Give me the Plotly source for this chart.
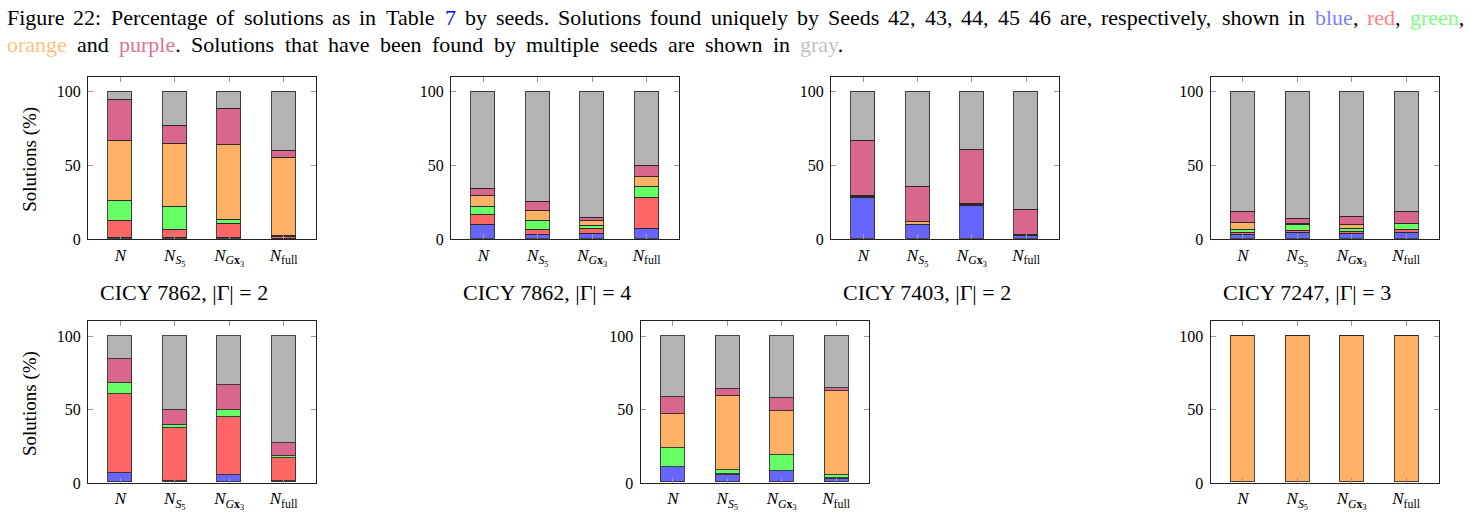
import plotly.graph_objects as go

W, H = 1467, 526

categories = ["N", "NS5", "NGx3", "Nfull"]
tick_labels = [
    "<i>N</i>",
    "<i>N</i><sub><i>S</i><sub>5</sub></sub>",
    "<i>N</i><sub><i>G</i><b>x</b><sub>3</sub></sub>",
    "<i>N</i><sub>full</sub>",
]
titles = ["CICY 7862, |Γ| = 2", "CICY 7862, |Γ| = 4", "CICY 7403, |Γ| = 2", "CICY 7247, |Γ| = 3"]

# values per chart (7 charts) x 4 categories, in %
blue = [
    [1.3, 1.3, 1.3, 0.4],
    [9.7, 3.3, 4.0, 7.1],
    [27.9, 9.7, 22.6, 2.4],
    [2.7, 4.2, 3.8, 4.2],
    [6.2, 1.3, 4.9, 1.3],
    [10.6, 5.3, 8.0, 2.7],
    [0, 0, 0, 0],
]
red = [
    [11.5, 4.9, 9.3, 1.6],
    [6.7, 3.3, 3.3, 21.2],
    [0.8, 0.4, 0.7, 0.5],
    [1.7, 1.6, 1.5, 2.2],
    [54.3, 36.0, 39.7, 15.3],
    [0, 0.6, 0, 0.3],
    [0, 0, 0, 0],
]
green = [
    [13.1, 16.1, 2.5, 0.4],
    [5.3, 6.0, 1.8, 7.3],
    [0.7, 0, 0.6, 0.4],
    [2.2, 3.7, 1.8, 4.0],
    [7.3, 1.7, 5.1, 1.4],
    [13.1, 2.7, 10.6, 2.1],
    [0, 0, 0, 0],
]
orange = [
    [40.5, 42.1, 51.1, 52.9],
    [7.7, 6.4, 3.5, 6.9],
    [0, 1.6, 0, 0],
    [4.5, 0.9, 2.9, 0.4],
    [0, 0, 0, 0],
    [23.1, 50.6, 30.0, 57.2],
    [100, 100, 100, 100],
]
purple = [
    [27.8, 12.6, 24.1, 4.9],
    [4.9, 6.7, 2.2, 7.1],
    [37.0, 23.5, 36.9, 16.8],
    [7.3, 3.5, 5.3, 8.0],
    [16.0, 10.2, 16.6, 8.8],
    [11.1, 4.2, 9.0, 2.0],
    [0, 0, 0, 0],
]
gray = [
    [5.8, 23.0, 11.7, 39.8],
    [65.7, 74.3, 85.2, 50.4],
    [33.6, 64.8, 39.2, 79.9],
    [81.6, 86.1, 84.7, 81.2],
    [16.2, 50.8, 33.7, 73.2],
    [42.1, 36.6, 42.4, 35.7],
    [0, 0, 0, 0],
]

series = [
    ("Seed 42", blue, "#6666ff"),
    ("Seed 43", red, "#ff6666"),
    ("Seed 44", green, "#66ff66"),
    ("Seed 45", orange, "#ffb266"),
    ("Seed 46", purple, "#d9668c"),
    ("multiple", gray, "#b3b3b3"),
]

# subplot boxes in pixels: (left, right, top, bottom)
boxes = [
    (88, 316, 78, 243.3),
    (451, 679, 78, 243.3),
    (831, 1058.5, 78, 243.3),
    (1210.5, 1438.5, 78, 243.3),
    (88, 316, 327, 491.3),
    (640.5, 868.5, 327, 491.3),
    (1210.5, 1438.5, 327, 491.3),
]

serif = "Liberation Serif"
fig = go.Figure()
xpos = list(range(len(categories)))

for i, (l, r, t, b) in enumerate(boxes):
    k = "" if i == 0 else str(i + 1)
    for name, vals, col in series:
        fig.add_trace(go.Bar(
            x=xpos, y=vals[i], name=name,
            marker=dict(color=col, line=dict(color="rgba(40,40,40,0.85)", width=1)),
            width=0.44, xaxis="x" + k, yaxis="y" + k, showlegend=False,
        ))
    fig.layout["xaxis" + k] = dict(
        domain=[l / W, r / W], anchor="y" + k, range=[-0.595, 3.595],
        tickvals=xpos, ticktext=tick_labels, ticks="inside", ticklen=5, tickcolor="#999",
        showline=True, linecolor="#222", linewidth=1, mirror="allticks", showgrid=False, zeroline=False,
        tickfont=dict(family=serif, size=17, color="black"),
    )
    fig.layout["yaxis" + k] = dict(
        domain=[1 - b / H, 1 - t / H], anchor="x" + k, range=[0, 110],
        tickvals=[0, 50, 100], ticks="inside", ticklen=5, tickcolor="#999",
        showline=True, linecolor="#222", linewidth=1, mirror="allticks", showgrid=False, zeroline=False,
        tickfont=dict(family=serif, size=16, color="black"), ticklabelstandoff=3,
    )

# ---- caption, laid out word by word (justified like the LaTeX original) ----
TW = {' ': 250, 'a': 444, 'b': 500, 'c': 444, 'd': 500, 'e': 444, 'f': 333, 'g': 500, 'h': 500,
      'i': 278, 'j': 278, 'k': 500, 'l': 278, 'm': 778, 'n': 500, 'o': 500, 'p': 500, 'q': 500,
      'r': 333, 's': 389, 't': 278, 'u': 500, 'v': 500, 'w': 722, 'x': 500, 'y': 500, 'z': 444,
      'F': 556, 'P': 556, 'S': 556, 'T': 611, ':': 278, '.': 250, ',': 250}


def tw(s, size):
    return sum(TW.get(c, 500) for c in s) * size / 1000.0


CAP = 22
blk = "black"
line1 = [[("Figure", blk)], [("22:", blk)], [("Percentage", blk)], [("of", blk)], [("solutions", blk)],
         [("as", blk)], [("in", blk)], [("Table", blk)], [("7", "#0000ff")], [("by", blk)], [("seeds.", blk)],
         [("Solutions", blk)], [("found", blk)], [("uniquely", blk)], [("by", blk)], [("Seeds", blk)],
         [("42,", blk)], [("43,", blk)], [("44,", blk)], [("45", blk)], [("46", blk)], [("are,", blk)],
         [("respectively,", blk)], [("shown", blk)], [("in", blk)],
         [("blue", "#8080ff"), (",", blk)], [("red", "#ff7f7f"), (",", blk)], [("green", "#7fff7f"), (",", blk)]]
line2 = [[("orange", "#ffbf7f")], [("and", blk)], [("purple", "#d9739a"), (".", blk)], [("Solutions", blk)],
         [("that", blk)], [("have", blk)], [("been", blk)], [("found", blk)], [("by", blk)], [("multiple", blk)],
         [("seeds", blk)], [("are", blk)], [("shown", blk)], [("in", blk)], [("gray", "#bfbfbf"), (".", blk)]]

annotations = []
for words, ypx, x0, x1 in [(line1, 18, 5, 1462), (line2, 45, 5, 843)]:
    widths = [sum(tw(p, CAP) for p, _ in w) for w in words]
    gap = (x1 - x0 - sum(widths)) / (len(words) - 1)
    x = x0
    for w, wd in zip(words, widths):
        txt = "".join(p if c == blk else '<span style="color:%s">%s</span>' % (c, p) for p, c in w)
        annotations.append(dict(text=txt, x=x / W, y=1 - ypx / H, xref="paper", yref="paper",
                                xanchor="left", yanchor="middle", showarrow=False,
                                font=dict(family=serif, size=CAP, color="black")))
        x += wd + gap

for i, ttl in enumerate(titles):
    l, r, t, b = boxes[i]
    annotations.append(dict(text=ttl, x=((l + r) / 2 - 18) / W, y=1 - 298 / H, xref="paper", yref="paper",
                            xanchor="center", yanchor="middle", showarrow=False,
                            font=dict(family=serif, size=22, color="black")))

for ycen in [(78 + 243.3) / 2, (327 + 491.3) / 2]:
    annotations.append(dict(text="Solutions (%)", x=30 / W, y=1 - (ycen + 2) / H, xref="paper", yref="paper",
                            xanchor="center", yanchor="middle", textangle=-90, showarrow=False,
                            font=dict(family=serif, size=19, color="black")))

fig.update_layout(
    width=W, height=H, margin=dict(l=0, r=0, t=0, b=0), barmode="stack",
    paper_bgcolor="white", plot_bgcolor="white", annotations=annotations,
    bargap=0,
)

fig.write_html("out.html")
